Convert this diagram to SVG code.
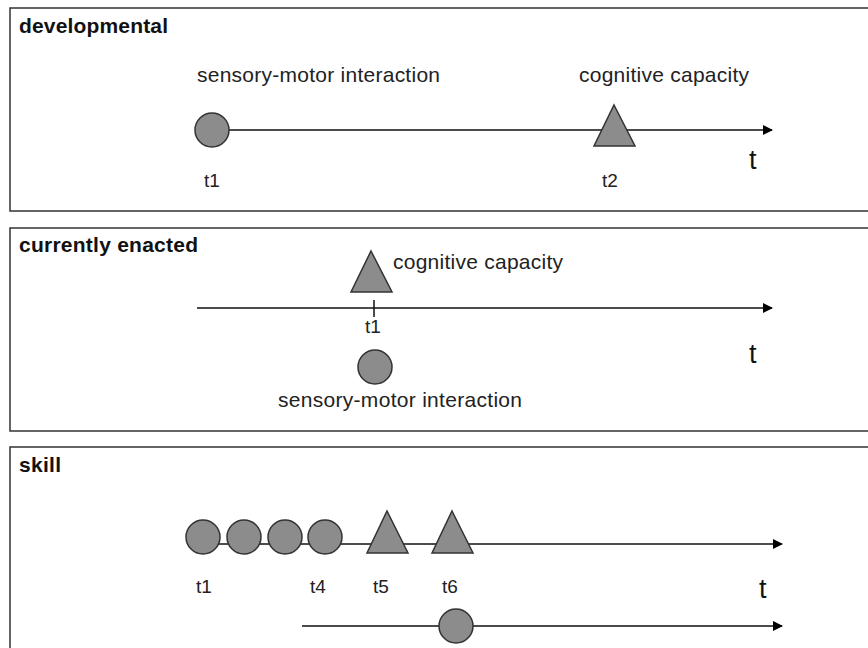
<svg xmlns="http://www.w3.org/2000/svg" width="868" height="648" viewBox="0 0 868 648">
<defs>
<marker id="arr" markerWidth="10" markerHeight="10" refX="9" refY="5" orient="auto" markerUnits="userSpaceOnUse">
<path d="M0,0 L10,5 L0,10 z" fill="#000"/>
</marker>
<style>
.panel{fill:#fff;stroke:#333;stroke-width:1.5}
.title{font-family:"Liberation Sans",Arial,sans-serif;font-weight:bold;font-size:21px;fill:#111}
.lbl{font-family:"Liberation Sans",Arial,sans-serif;font-size:21px;fill:#222}
.tl{font-family:"Liberation Sans",Arial,sans-serif;font-size:19px;fill:#222}
.big{font-family:"Liberation Sans",Arial,sans-serif;font-size:27px;fill:#111}
.node{fill:#8c8c8c;stroke:#333;stroke-width:1.5}
.axis{stroke:#111;stroke-width:1.5;fill:none}
</style>
</defs>

<g id="panel-developmental">
<rect class="panel" x="10" y="8" width="870" height="203"/>
<text class="title" x="19" y="33" textLength="149">developmental</text>
<text class="lbl" x="197" y="82" textLength="243">sensory-motor interaction</text>
<text class="lbl" x="579" y="82" textLength="170">cognitive capacity</text>
<text class="tl" x="204" y="187">t1</text>
<text class="tl" x="602" y="187">t2</text>
<text class="big" x="749" y="169">t</text>
</g>

<g id="panel-enacted">
<rect class="panel" x="10" y="228" width="870" height="203"/>
<text class="title" x="19" y="252" textLength="179">currently enacted</text>
<text class="lbl" x="393" y="269" textLength="170">cognitive capacity</text>
<text class="tl" x="365" y="333">t1</text>
<text class="lbl" x="278" y="407" textLength="244">sensory-motor interaction</text>
<text class="big" x="749" y="363">t</text>
</g>

<g id="panel-skill">
<rect class="panel" x="10" y="447" width="870" height="220"/>
<text class="title" x="19" y="472" textLength="42">skill</text>
<text class="tl" x="196" y="593">t1</text>
<text class="tl" x="310" y="593">t4</text>
<text class="tl" x="373" y="593">t5</text>
<text class="tl" x="442" y="593">t6</text>
<text class="big" x="759" y="598">t</text>
</g>

<g id="connectors">
<line class="axis" x1="229" y1="130" x2="772" y2="130" marker-end="url(#arr)"/>
<line class="axis" x1="197" y1="308" x2="772" y2="308" marker-end="url(#arr)"/>
<line class="axis" x1="374" y1="300" x2="374" y2="317"/>
<line class="axis" x1="203" y1="544" x2="782" y2="544" marker-end="url(#arr)"/>
<line class="axis" x1="302" y1="626" x2="782" y2="626" marker-end="url(#arr)"/>
</g>

<g id="dev-t1"><circle class="node" cx="212" cy="130" r="17"/></g>
<g id="dev-t2"><polygon class="node" points="614,105 635,146 594,146"/></g>

<g id="enacted-cog"><polygon class="node" points="371,251 392,292 351,292"/></g>
<g id="enacted-sm"><circle class="node" cx="375" cy="367" r="17"/></g>

<g id="skill-c1"><circle class="node" cx="203" cy="537" r="17"/></g>
<g id="skill-c2"><circle class="node" cx="244" cy="537" r="17"/></g>
<g id="skill-c3"><circle class="node" cx="285" cy="537" r="17"/></g>
<g id="skill-c4"><circle class="node" cx="325" cy="537" r="17"/></g>
<g id="skill-t5"><polygon class="node" points="387,511 408,553 367,553"/></g>
<g id="skill-t6"><polygon class="node" points="452,511 473,553 432,553"/></g>
<g id="skill-bottom"><circle class="node" cx="456" cy="626" r="17"/></g>
</svg>
